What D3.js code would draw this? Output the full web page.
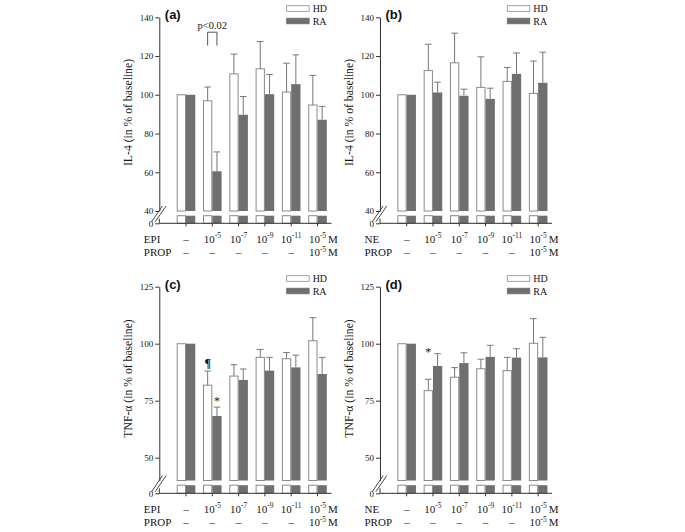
<!DOCTYPE html>
<html>
<head>
<meta charset="utf-8">
<script src="https://cdn.jsdelivr.net/npm/d3@7/dist/d3.min.js"></script>
<style>
  html, body { margin: 0; padding: 0; background: #fff; }
  svg { display: block; }
</style>
</head>
<body>
<svg id="chart" width="685" height="532"></svg>
<script>
// ---------- data ----------
const groups = ["ctrl", "1e-5", "1e-7", "1e-9", "1e-11", "1e-5+PROP"];
const series = ["HD", "RA"];
// row labels: [base, exponent, unit]
const agonistLabels = [["–", "", ""], ["10", "-5", ""], ["10", "-7", ""], ["10", "-9", ""], ["10", "-11", ""], ["10", "-5", "M"]];
const propLabels = [["–", "", ""], ["–", "", ""], ["–", "", ""], ["–", "", ""], ["–", "", ""], ["10", "-5", "M"]];

const il4EpiHD = [100, 96.9, 110.8, 113.4, 101.4, 94.7];
const il4EpiHDerr = [0, 7.1, 10.2, 14.1, 14.9, 15.3];
const il4EpiRA = [100, 60.5, 89.7, 100.3, 105.5, 87.1];
const il4EpiRAerr = [0, 10.0, 9.4, 10.2, 15.1, 6.9];

const il4NeHD = [100, 112.5, 116.5, 103.8, 106.9, 100.7];
const il4NeHDerr = [0, 13.6, 15.3, 15.8, 7.2, 16.7];
const il4NeRA = [100, 101.2, 99.5, 97.9, 110.8, 106.2];
const il4NeRAerr = [0, 5.3, 3.4, 5.5, 10.8, 15.8];

const tnfEpiHD = [100, 81.8, 85.8, 94.0, 93.4, 101.3];
const tnfEpiHDerr = [0, 6.2, 5.0, 3.5, 2.7, 10.1];
const tnfEpiRA = [100, 68.3, 84.1, 88.2, 89.6, 86.7];
const tnfEpiRAerr = [0, 3.9, 4.8, 5.8, 5.4, 7.3];

const tnfNeHD = [100, 79.4, 85.3, 89.0, 88.2, 100.2];
const tnfNeHDerr = [0, 5.0, 4.2, 4.2, 5.8, 10.8];
const tnfNeRA = [100, 90.2, 91.5, 94.2, 93.9, 94.0];
const tnfNeRAerr = [0, 5.4, 4.5, 5.1, 3.9, 8.8];

const il4Ticks = [40, 60, 80, 100, 120, 140];
const tnfTicks = [50, 75, 100, 125];

// annotations: [group, series, text, value-level of text baseline]
const annA = [];
const annC = [["1e-5", "HD", "¶", 89.8], ["1e-5", "RA", "*", 73.3]];
const annD = [["1e-5", "HD", "*", 94.4]];
// significance bracket in (a)
const bracketA = { group: "1e-5", top: 132.3, bottom: 125.4, label: "p<0.02" };

// ---------- layout ----------
const SERIF = "'Liberation Serif', 'Times New Roman', Times, 'DejaVu Serif', serif";
const SANS = "'Liberation Sans', Arial, Helvetica, sans-serif";

const panels = [
  { id: "(a)", axisX: 159.3, band: [172.85, 330.65], xEnd: 331.5,
    dom: [40, 140], rng: [211, 17.3], base: 223.3, lowTop: 215.7, ticks: il4Ticks,
    hd: il4EpiHD, hdErr: il4EpiHDerr, ra: il4EpiRA, raErr: il4EpiRAerr,
    title: "IL-4 (in % of baseline)", titleY: 112.5, ag: "EPI", oy: 0, ann: annA, bracket: bracketA },
  { id: "(b)", axisX: 380, band: [393.5, 551.3], xEnd: 552,
    dom: [40, 140], rng: [211, 17.3], base: 223.3, lowTop: 215.7, ticks: il4Ticks,
    hd: il4NeHD, hdErr: il4NeHDerr, ra: il4NeRA, raErr: il4NeRAerr,
    title: "IL-4 (in % of baseline)", titleY: 112.5, ag: "NE", oy: 0, ann: [], bracket: null },
  { id: "(c)", axisX: 159.3, band: [172.85, 330.65], xEnd: 331.5,
    dom: [40, 125], rng: [480.5, 286.7], base: 493.3, lowTop: 485.2, ticks: tnfTicks,
    hd: tnfEpiHD, hdErr: tnfEpiHDerr, ra: tnfEpiRA, raErr: tnfEpiRAerr,
    title: "TNF-α (in % of baseline)", titleY: 378.5, ag: "EPI", oy: 270, ann: annC, bracket: null },
  { id: "(d)", axisX: 380, band: [393.5, 551.3], xEnd: 552,
    dom: [40, 125], rng: [480.5, 286.7], base: 493.3, lowTop: 485.2, ticks: tnfTicks,
    hd: tnfNeHD, hdErr: tnfNeHDerr, ra: tnfNeRA, raErr: tnfNeRAerr,
    title: "TNF-α (in % of baseline)", titleY: 378.5, ag: "NE", oy: 270, ann: annD, bracket: null }
];

const svg = d3.select("#chart");
const RA_FILL = "#6f6f6f";
const HD_STROKE = "#8a8a8a";
const ERR_COL = "#777";
const AX_COL = "#333";
const TXT = "#151515";

function txt(sel, size) {
  return sel.style("font-family", SERIF).style("font-size", size + "px").attr("fill", TXT);
}

panels.forEach(p => {
  const g = svg.append("g");
  const x = d3.scaleBand().domain(groups).range(p.band).paddingInner(0.293).paddingOuter(0.1465);
  const xs = d3.scaleBand().domain(series).range([0, x.bandwidth()]).padding(0);
  const y = d3.scaleLinear().domain(p.dom).range(p.rng);
  const yLow = d3.scaleLinear().domain([0, 4]).range([p.base, p.lowTop]);

  const rows = groups.map((grp, i) => ({ grp, HD: p.hd[i], HDe: p.hdErr[i], RA: p.ra[i], RAe: p.raErr[i] }));
  const bars = [];
  rows.forEach(r => series.forEach(s => bars.push({ grp: r.grp, s, v: r[s], e: r[s + "e"] })));

  const bx = d => x(d.grp) + xs(d.s) + (d.s === "HD" ? 0.5 : 0);
  const bw = d => xs.bandwidth() - (d.s === "HD" ? 1 : 0);

  // upper bars
  g.selectAll("rect.up").data(bars).join("rect").attr("class", "up")
    .attr("x", bx).attr("width", bw)
    .attr("y", d => y(d.v))
    .attr("height", d => y(p.dom[0]) - y(d.v))
    .attr("fill", d => d.s === "HD" ? "#fff" : RA_FILL)
    .attr("stroke", d => d.s === "HD" ? HD_STROKE : "none")
    .attr("stroke-width", 1);
  // lower bars (below break)
  g.selectAll("rect.low").data(bars).join("rect").attr("class", "low")
    .attr("x", bx).attr("width", bw)
    .attr("y", yLow(4))
    .attr("height", yLow(0) - yLow(4))
    .attr("fill", d => d.s === "HD" ? "#fff" : RA_FILL)
    .attr("stroke", d => d.s === "HD" ? HD_STROKE : "none")
    .attr("stroke-width", 1);

  // error bars
  const eb = bars.filter(d => d.e > 0);
  const ecx = d => x(d.grp) + xs(d.s) + xs.bandwidth() / 2;
  g.selectAll("line.err").data(eb).join("line").attr("class", "err")
    .attr("x1", ecx).attr("x2", ecx)
    .attr("y1", d => y(d.v)).attr("y2", d => y(d.v + d.e))
    .attr("stroke", ERR_COL).attr("stroke-width", 1);
  g.selectAll("line.cap").data(eb).join("line").attr("class", "cap")
    .attr("x1", d => ecx(d) - 3.3).attr("x2", d => ecx(d) + 3.3)
    .attr("y1", d => y(d.v + d.e)).attr("y2", d => y(d.v + d.e))
    .attr("stroke", ERR_COL).attr("stroke-width", 1);

  // y axis upper
  const ax = g.append("g").attr("transform", `translate(${p.axisX},0)`)
    .call(d3.axisLeft(y).tickValues(p.ticks).tickSize(4).tickSizeOuter(0).tickPadding(2).tickFormat(d3.format("d")));
  ax.selectAll("path,line").attr("stroke", AX_COL);
  txt(ax.selectAll("text"), 9);
  // y axis lower
  const axl = g.append("g").attr("transform", `translate(${p.axisX},0)`)
    .call(d3.axisLeft(yLow).tickValues([0]).tickSize(4).tickSizeOuter(0).tickPadding(2).tickFormat(d3.format("d")));
  axl.select("path").attr("d", `M0,${yLow(0)}V${yLow(2.5)}`);
  axl.selectAll("path,line").attr("stroke", AX_COL);
  txt(axl.selectAll("text"), 9);

  // break marks
  const bTop = y(p.dom[0]) - 5, bBot = yLow(0) - 1.5;
  [-1.8, 1.8].forEach(off => {
    g.append("line")
      .attr("x1", p.axisX - 6 + off).attr("y1", bBot)
      .attr("x2", p.axisX + 5 + off).attr("y2", bTop)
      .attr("stroke", AX_COL).attr("stroke-width", 0.9);
  });

  // x axis
  g.append("line").attr("x1", p.axisX).attr("x2", p.xEnd)
    .attr("y1", p.base).attr("y2", p.base).attr("stroke", AX_COL);
  g.selectAll("line.xt").data(groups).join("line").attr("class", "xt")
    .attr("x1", d => x(d) + x.bandwidth() / 2).attr("x2", d => x(d) + x.bandwidth() / 2)
    .attr("y1", p.base).attr("y2", p.base + 3).attr("stroke", AX_COL);

  // x labels
  const rowY1 = p.base + 19.5, rowY2 = p.base + 33;
  txt(g.append("text").attr("x", p.axisX - 15.5).attr("y", rowY1), 11).text(p.ag);
  txt(g.append("text").attr("x", p.axisX - 15.5).attr("y", rowY2), 11).text("PROP");
  [[agonistLabels, rowY1], [propLabels, rowY2]].forEach(([labs, yy]) => {
    labs.forEach((lab, i) => {
      const cx = x(groups[i]) + x.bandwidth() / 2;
      const t = txt(g.append("text").attr("x", cx).attr("y", yy).attr("text-anchor", "middle"), 11);
      t.append("tspan").text(lab[0]);
      if (lab[1]) t.append("tspan").attr("dy", -4.5).style("font-size", "7.5px").text(lab[1]);
      if (lab[2]) txt(g.append("text").attr("x", cx + 10.5).attr("y", yy), 11).text(lab[2]);
    });
  });

  // y title
  txt(g.append("text")
    .attr("transform", `translate(${p.axisX - 30.5},${p.titleY}) rotate(-90)`)
    .attr("text-anchor", "middle").attr("dominant-baseline", "central"), 11.7).text(p.title);

  // panel label
  g.append("text").attr("x", p.axisX + 5.5).attr("y", p.oy + 18.5)
    .style("font-family", SANS).style("font-weight", "bold")
    .style("font-size", "13px").attr("fill", "#111").text(p.id);

  // legend
  const lx = p.band[1] - 44;
  series.forEach((s, i) => {
    const by = p.oy + (i === 0 ? 5.7 : 18.2);
    g.append("rect").attr("x", lx).attr("y", by).attr("width", 22.5).attr("height", 5.6)
      .attr("fill", s === "HD" ? "#fff" : RA_FILL)
      .attr("stroke", s === "HD" ? HD_STROKE : RA_FILL).attr("stroke-width", 0.8);
    txt(g.append("text").attr("x", lx + 26).attr("y", by + 6.3), 10).text(s);
  });

  // annotations
  p.ann.forEach(([grp, s, t, lvl]) => {
    const cx = x(grp) + xs(s) + xs.bandwidth() / 2;
    txt(g.append("text").attr("x", cx).attr("y", y(lvl)).attr("text-anchor", "middle"), 12)
      .style("font-weight", t === "¶" ? "bold" : "normal").text(t);
  });

  // bracket
  if (p.bracket) {
    const b = p.bracket;
    const x1 = x(b.group) + xs("HD") + xs.bandwidth() / 2;
    const x2 = x(b.group) + xs("RA") + xs.bandwidth() / 2;
    g.append("path")
      .attr("d", `M${x1},${y(b.bottom)}V${y(b.top)}H${x2}V${y(b.bottom)}`)
      .attr("fill", "none").attr("stroke", "#555").attr("stroke-width", 1);
    txt(g.append("text").attr("x", (x1 + x2) / 2).attr("y", y(b.top) - 3.5).attr("text-anchor", "middle"), 10.5)
      .text(b.label);
  }
});
</script>
</body>
</html>
